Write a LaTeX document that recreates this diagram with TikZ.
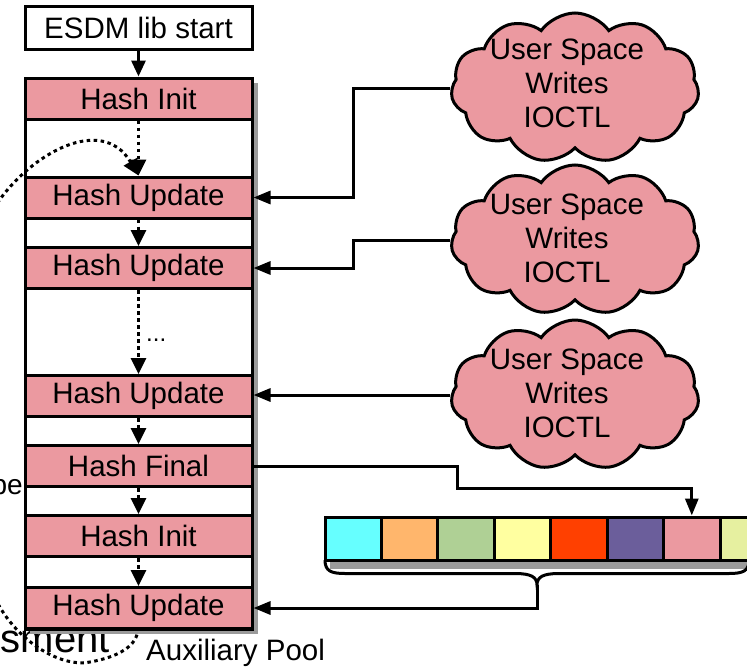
\documentclass[tikz,border=0pt]{standalone}
\usepackage{fontspec}
\setmainfont{Liberation Sans}
\usetikzlibrary{arrows.meta,shapes.symbols,calc}
\definecolor{pinkc}{RGB}{235,153,160}
\definecolor{cA}{RGB}{102,255,255}
\definecolor{cB}{RGB}{255,182,108}
\definecolor{cC}{RGB}{175,208,149}
\definecolor{cD}{RGB}{255,255,160}
\definecolor{cE}{RGB}{255,64,0}
\definecolor{cF}{RGB}{107,94,155}
\definecolor{cH}{RGB}{230,240,160}
\definecolor{shad}{RGB}{155,155,155}
\newcommand\fsB{\fontsize{29.5pt}{34pt}\selectfont}
\begin{document}
\begin{tikzpicture}[x=1pt,y=-1pt,
  lw/.style={line width=3pt},
  bar/.style={draw, line width=3pt, fill=pinkc, minimum width=227pt, minimum height=41pt, inner sep=0pt, font=\fsB},
  conn/.style={line width=3pt, -{Triangle[length=17pt,width=13pt]}},
  solidarr/.style={line width=3pt, -{Triangle[length=16pt,width=14pt]}},
  dotline/.style={line width=3pt, dash pattern=on 3.5pt off 3.5pt},
  dotarr/.style={dotline, -{Triangle[length=16pt,width=15pt]}},
  usercloud/.style={cloud, cloud puffs=11, cloud puff arc=110, aspect=1.6, draw, line width=3pt, fill=pinkc, minimum width=248pt, minimum height=150pt, inner sep=0pt},
  cloudtext/.style={align=center, inner sep=0pt, font=\fsB},
  cell/.style={draw, line width=3pt, minimum width=56.43pt, minimum height=43pt, inner sep=0pt}
]
\useasboundingbox (0,0) rectangle (747,667);

% partially hidden texts
\node[anchor=base east, inner sep=0pt, font=\fontsize{28pt}{32pt}\selectfont] (tpe) at (23,494) {pe};
\node[anchor=base east, inner sep=0pt, font=\fontsize{40pt}{46pt}\selectfont] (tsment) at (110,652) {sment};
\draw[dotline] (-5,598) .. controls (15,640) and (60,668) .. (90,662) .. controls (118,657) and (138,646) .. (138,628);

% column
\fill[shad] (30,83) rectangle (257.5,634);
\draw[lw, fill=white] (25,78) rectangle (252,629);

\node[bar] (init) at (138.5,98.5) {Hash Init};
\node[bar] (u1) at (138.5,197.5) {Hash Update};
\node[bar] (u2) at (138.5,268) {Hash Update};
\node[bar] (u3) at (138.5,396) {Hash Update};
\node[bar] (final) at (138.5,466) {Hash Final};
\node[bar] (init2) at (138.5,536) {Hash Init};
\node[bar] (u4) at (138.5,608) {Hash Update};

\node[draw, lw, fill=white, minimum width=227pt, minimum height=43pt, inner sep=0pt, font=\fsB] (esdm) at (138.5,27.5) {ESDM lib start};
\draw[solidarr] (esdm.south) -- (init.north);

\draw[dotarr] (init.south) -- (u1.north);
\draw[dotarr] (-10,215) .. controls (20,160) and (100,110) .. (u1.north);
\draw[dotarr] (u1.south) -- (u2.north);
\draw[dotarr] (u2.south) -- (u3.north);
\node[anchor=base west, inner sep=0pt, font=\fontsize{24pt}{28pt}\selectfont] (dots) at (146,341) {...};
\draw[dotarr] (u3.south) -- (final.north);
\draw[dotarr] (final.south) -- (init2.north);
\draw[dotarr] (init2.south) -- (u4.north);

% clouds
\node[usercloud] (c1) at (575,88) {};
\node[usercloud] (c2) at (575,240) {};
\node[usercloud] (c3) at (575,395) {};
\node[cloudtext] (c1t) at (567,83) {User Space\\Writes\\IOCTL};
\node[cloudtext] (c2t) at (567,238) {User Space\\Writes\\IOCTL};
\node[cloudtext] (c3t) at (567,393) {User Space\\Writes\\IOCTL};
\draw[conn] (c1.west) -| ($(u1.east)+(100,0)$) -- (u1.east);
\draw[conn] (c2.west) -| ($(u2.east)+(100,0)$) -- (u2.east);
\draw[conn] (c3.west) -- (c3.west -| u3.east);

% pool
\fill[shad] (330,560) rectangle (750,569);
\foreach \i/\c in {1/cA,2/cB,3/cC,4/cD,5/cE,6/cF,7/pinkc,8/cH}
  \node[cell, fill=\c] (p\i) at ({325+56.43*(\i-0.5)},538.5) {};
\coordinate (bt) at (537,585);
\draw[lw] (325,560) .. controls (325,571) and (331,573.5) .. (345,573.5) -- (515,573.5) .. controls (531,573.5) and (537,577) .. (bt) .. controls (537,577) and (543,573.5) .. (559,573.5) -- (729,573.5) .. controls (743,573.5) and (749,571) .. (749,560);
\draw[conn] (bt) |- (u4.east);
\draw[conn] (final.east) -| (457,488) -| (p7.north);

\node[anchor=base west, inner sep=0pt, font=\fsB] (aux) at (146,660) {Auxiliary Pool};
\end{tikzpicture}
\end{document}
